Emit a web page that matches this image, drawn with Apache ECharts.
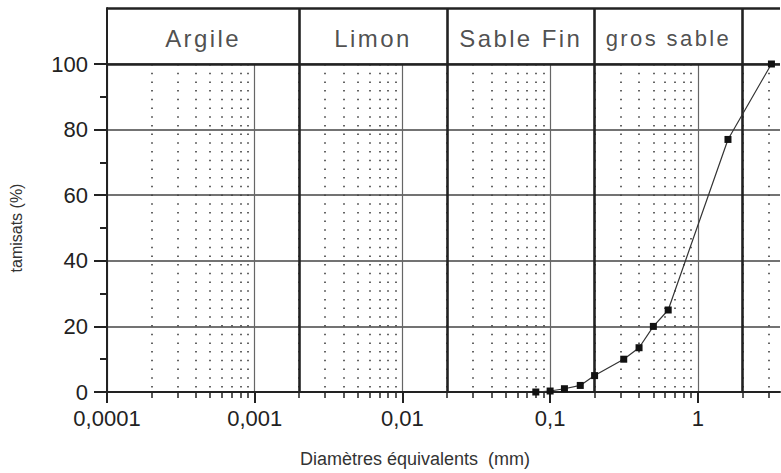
<!DOCTYPE html>
<html>
<head>
<meta charset="utf-8">
<script src="https://cdn.jsdelivr.net/npm/echarts@6/dist/echarts.min.js"></script>
<style>
  html, body { margin: 0; padding: 0; background: #fff; }
  #chart { width: 781px; height: 473px; }
  #chart text[style*="Arial"] { letter-spacing: 2.4px; }
</style>
</head>
<body>
<div id="chart"></div>
<script>
// ---- data ----
const sizes   = [0.08, 0.1, 0.125, 0.16, 0.2, 0.315, 0.4, 0.5, 0.63, 1.6, 3.15];   // mm
const passing = [0, 0.3, 1, 2, 5, 10, 13.5, 20, 25, 77, 100];                  // tamisats %

const xTickValues = [0.0001, 0.001, 0.01, 0.1, 1];
const xTickLabels = ['0,0001', '0,001', '0,01', '0,1', '1'];
const minorMultipliers = [2, 3, 4, 5, 6, 7, 8, 9];

const yTickValues = [0, 20, 40, 60, 80, 100];
const yMinorTicks = [10, 30, 50, 70, 90];

const classNames  = ['Argile', 'Limon', 'Sable Fin', 'gros sable'];
const classBounds = [0.0001, 0.002, 0.02, 0.2, 2];

const X_MIN = 0.0001, X_MAX = 3.6;

// ---- helpers ----
const L = Math.log10;
const lmin = L(X_MIN), lmax = L(X_MAX);
const minorTicks = [];
xTickValues.forEach(d => minorMultipliers.forEach(m => {
  const v = d * m; if (v < X_MAX) minorTicks.push(L(v));
}));
const boundaryLines = classBounds.slice(1).map(L);

const DARK = '#222';
const FONT = '"Liberation Sans"';

const chart = echarts.init(document.getElementById('chart'), null, { renderer: 'svg' });

const hiddenValueX = (grid, extra) => Object.assign({
  type: 'value', gridIndex: grid, position: 'bottom', min: lmin, max: lmax,
  axisLine: { show: false, onZero: false },
  axisLabel: { show: false }, splitLine: { show: false }
}, extra);

chart.setOption({
  animation: false,
  backgroundColor: '#fff',
  grid: [
    { left: 107, right: 1, top: 64, height: 330 },   // plot
    { left: 107, right: 1, top: 8, height: 56 }       // header classes
  ],
  xAxis: [
    { // 0: log axis carrying the data and the labels
      type: 'log', logBase: 10, gridIndex: 0, position: 'bottom', min: X_MIN, max: X_MAX, z: 3,
      axisLine: { show: true, onZero: false, lineStyle: { color: DARK, width: 2 } },
      axisTick: { show: false }, splitLine: { show: false },
      axisLabel: {
        fontFamily: FONT, fontSize: 22, color: DARK, margin: 15, showMaxLabel: false,
        formatter: v => {
          const i = xTickValues.findIndex(t => Math.abs(L(t) - L(v)) < 1e-6);
          return i < 0 ? '' : xTickLabels[i];
        }
      },
      name: 'Diamètres équivalents  (mm)', nameLocation: 'middle', nameGap: 58,
      nameTextStyle: { fontFamily: FONT, fontSize: 18, color: '#333', padding: [0, 57, 0, 0] }
    },
    hiddenValueX(0, { // 1: decades – major ticks + grey grid
      z: 1,
      axisTick: { show: true, length: 11, customValues: xTickValues.map(L), lineStyle: { color: DARK, width: 2 } },
      splitLine: { show: true, lineStyle: { color: '#666', width: 1.2 } }
    }),
    hiddenValueX(0, { // 2: minor ticks + dotted grid
      z: 0,
      axisTick: { show: true, length: 6, customValues: minorTicks, lineStyle: { color: DARK, width: 1.5 } },
      splitLine: { show: true, lineStyle: { color: '#333', width: 1.5, type: [1.5, 7.2] } }
    }),
    hiddenValueX(0, { // 3: class boundaries in plot
      z: 2,
      axisTick: { show: false, customValues: boundaryLines },
      splitLine: { show: true, lineStyle: { color: DARK, width: 2.6 } }
    }),
    hiddenValueX(1, { // 4: class boundaries in header
      z: 2,
      axisTick: { show: false, customValues: boundaryLines },
      splitLine: { show: true, lineStyle: { color: DARK, width: 2.6 } }
    })
  ],
  yAxis: [
    { // 0: main
      type: 'value', gridIndex: 0, position: 'left', min: 0, max: 100, interval: 20, z: 1,
      axisLine: { show: true, onZero: false, lineStyle: { color: DARK, width: 2 } },
      axisTick: { show: true, length: 13, lineStyle: { color: DARK, width: 2 } },
      axisLabel: { fontFamily: FONT, fontSize: 22, color: DARK, margin: 19 },
      splitLine: { show: true, lineStyle: { color: '#444', width: 1.5 } },
      name: 'tamisats (%)', nameLocation: 'middle', nameGap: 83,
      nameTextStyle: { fontFamily: FONT, fontSize: 16, color: '#333' }
    },
    { // 1: minor ticks
      type: 'value', gridIndex: 0, position: 'left', min: 0, max: 100, z: 1,
      axisLine: { show: false, onZero: false },
      axisTick: { show: true, length: 7, customValues: yMinorTicks, lineStyle: { color: DARK, width: 2 } },
      axisLabel: { show: false }, splitLine: { show: false }
    },
    { // 2: header frame
      type: 'value', gridIndex: 1, position: 'left', min: 0, max: 1, interval: 1, z: 3,
      axisLine: { show: true, onZero: false, lineStyle: { color: DARK, width: 2 } },
      axisTick: { show: false }, axisLabel: { show: false },
      splitLine: { show: true, lineStyle: { color: DARK, width: 2.6 } }
    }
  ],
  series: [
    {
      type: 'line', xAxisIndex: 0, yAxisIndex: 0, z: 5, clip: false,
      data: sizes.map((d, i) => [d, passing[i]]),
      symbol: 'rect', symbolSize: 7, showAllSymbol: true,
      itemStyle: { color: '#111' },
      lineStyle: { color: '#333', width: 1.2 }
    },
    {
      type: 'scatter', xAxisIndex: 4, yAxisIndex: 2, z: 5, symbolSize: 0, silent: true,
      data: classNames.map((n, i) => ({
        value: [(L(classBounds[i]) + L(classBounds[i + 1])) / 2, 0.46],
        name: n,
        label: { fontSize: i === 3 ? 22 : 24 }
      })),
      label: {
        show: true, position: 'inside', formatter: p => p.name,
        fontFamily: '"Liberation Sans", Arial', color: DARK
      }
    }
  ]
});
</script>
</body>
</html>
